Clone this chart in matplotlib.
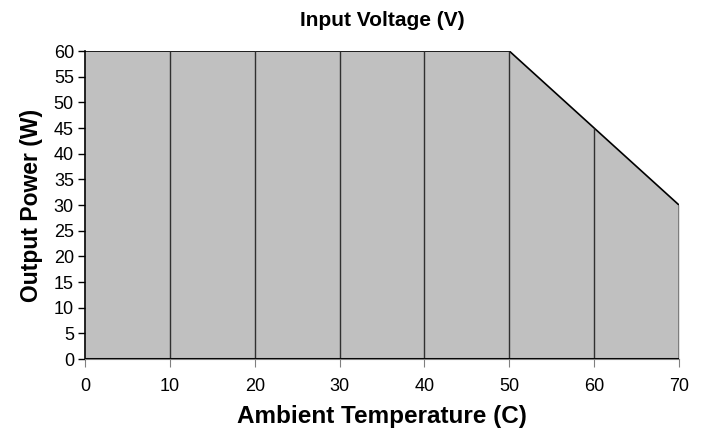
import matplotlib
matplotlib.use("Agg")
from matplotlib import pyplot as plt

plt.rcParams['font.family'] = ['Liberation Sans', 'DejaVu Sans']

# Derating curve
temps = [0, 10, 20, 30, 40, 50, 60, 70]
power = [60, 60, 60, 60, 60, 60, 45, 30]
xticks = [0, 10, 20, 30, 40, 50, 60, 70]
yticks = [0, 5, 10, 15, 20, 25, 30, 35, 40, 45, 50, 55, 60]


def main() -> None:
    fig = plt.figure(figsize=(7.05, 4.28), dpi=100)
    ax = fig.add_axes([0.1206, 0.1612, 0.8425, 0.7196])

    ax.fill_between(temps, 0, power, color="#c0c0c0", linewidth=0)
    ax.plot(temps, power, color="black", linewidth=1.2)
    # inner vertical separators
    ax.vlines(temps[1:-1], 0, power[1:-1], color="#303030", linewidth=1)
    ax.vlines(temps[-1], 0, power[-1], color="#707070", linewidth=1.2)
    ax.plot([temps[0], temps[-1]], [0, 0], color="black", linewidth=2.2)

    ax.set_xlim(0, 70)
    ax.set_ylim(0, 60)
    ax.set_xticks(xticks)
    ax.set_yticks(yticks)

    for s in ["top", "right"]:
        ax.spines[s].set_visible(False)
    ax.spines["left"].set_linewidth(1.2)
    ax.spines["bottom"].set_color("#808080")
    ax.tick_params(axis="x", direction="out", length=6, color="#808080",
                   labelsize=13, pad=8)
    ax.tick_params(axis="y", direction="out", length=5, color="black",
                   width=1, labelsize=13, pad=3)

    ax.set_title("Input Voltage (V)", fontsize=15, fontweight="bold", pad=18)
    ax.set_xlabel("Ambient Temperature (C)", fontsize=17.5, fontweight="bold",
                  labelpad=7)
    ax.set_ylabel("Output Power (W)", fontsize=16.5, fontweight="bold",
                  labelpad=8)

    fig.savefig("out.png", dpi=100)


if __name__ == "__main__":
    main()
